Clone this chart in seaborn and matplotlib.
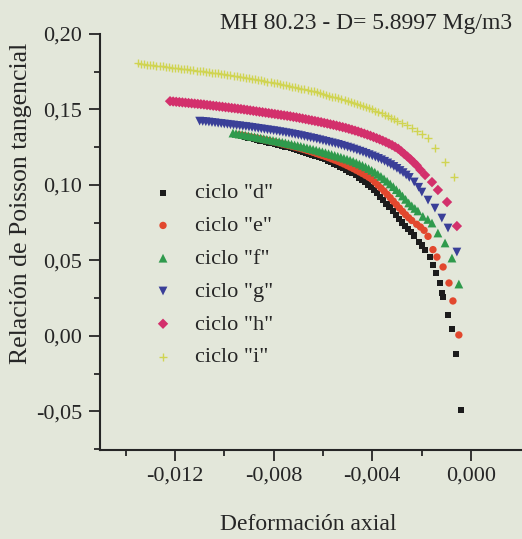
import matplotlib
matplotlib.use("Agg")
import matplotlib.pyplot as plt
from matplotlib.ticker import FixedLocator, FuncFormatter
import seaborn as sns
import pandas as pd

# ---------------- data ----------------
labels = ['ciclo "d"', 'ciclo "e"', 'ciclo "f"', 'ciclo "g"', 'ciclo "h"', 'ciclo "i"']

# ciclo "d"
d_x_band = [-0.0093, -0.009175, -0.00905, -0.008925, -0.0088, -0.008675, -0.00855, -0.008425, -0.0083, -0.008175,
            -0.00805, -0.007925, -0.0078, -0.007675, -0.00755, -0.007425, -0.0073, -0.007175, -0.00705, -0.006925,
            -0.0068, -0.006675, -0.00655, -0.006425, -0.0063, -0.006175, -0.00605, -0.005925, -0.0058, -0.005675,
            -0.00555, -0.005425, -0.0053, -0.005175, -0.00505, -0.004925, -0.0048, -0.004675, -0.00455, -0.004425,
            -0.0043, -0.004175, -0.00405, -0.003925, -0.0038, -0.003675, -0.00355, -0.003425, -0.0033, -0.003175,
            -0.00305, -0.002925, -0.0028, -0.002675, -0.00255, -0.002425, -0.0023]
d_y_band = [.1322, .1318, .1313, .1309, .1304, .1300, .1295, .1291, .1286, .1281,
            .1276, .1271, .1266, .1261, .1255, .1250, .1244, .1238, .1232, .1226,
            .1220, .1214, .1207, .1200, .1193, .1186, .1178, .1170, .1162, .1153,
            .1143, .1133, .1122, .1111, .1100, .1089, .1078, .1064, .1050, .1035,
            .1020, .1003, .0985, .0965, .0945, .0923, .0900, .0876, .0852, .0826,
            .0800, .0776, .0752, .0731, .0710, .0688, .0665]
d_x_tail = [-0.0021, -0.00198, -0.00186, -0.00166, -0.00154, -0.00142, -0.00126, -0.00118, -0.00113,
            -0.00093, -0.00077, -0.00061, -0.00041]
d_y_tail = [.0625, .0600, .0569, .0523, .0470, .0417, .0351, .0285, .0258,
            .0139, .0046, -.0119, -.0490]

# ciclo "e"
e_x_band = [-0.0094, -0.009275, -0.00915, -0.009025, -0.0089, -0.008775, -0.00865, -0.008525, -0.0084, -0.008275,
            -0.00815, -0.008025, -0.0079, -0.007775, -0.00765, -0.007525, -0.0074, -0.007275, -0.00715, -0.007025,
            -0.0069, -0.006775, -0.00665, -0.006525, -0.0064, -0.006275, -0.00615, -0.006025, -0.0059, -0.005775,
            -0.00565, -0.005525, -0.0054, -0.005275, -0.00515, -0.005025, -0.0049, -0.004775, -0.00465, -0.004525,
            -0.0044, -0.004275, -0.00415, -0.004025, -0.0039, -0.003775, -0.00365, -0.003525, -0.0034, -0.003275,
            -0.00315, -0.003025, -0.0029, -0.002775, -0.00265, -0.002525, -0.0024]
e_y_band = [.1332, .1329, .1325, .1321, .1317, .1313, .1309, .1305, .1300, .1296,
            .1291, .1287, .1282, .1277, .1272, .1267, .1262, .1257, .1252, .1247,
            .1241, .1235, .1229, .1223, .1216, .1209, .1202, .1195, .1188, .1181,
            .1173, .1165, .1157, .1148, .1139, .1129, .1119, .1109, .1098, .1087,
            .1076, .1064, .1052, .1039, .1020, .1000, .0980, .0960, .0938, .0916,
            .0893, .0870, .0847, .0825, .0803, .0783, .0765]
e_x_tail = [-0.0022, -0.00205, -0.0019, -0.00174, -0.00154, -0.00138, -0.00113, -0.00089, -0.00073, -0.00049]
e_y_tail = [.0740, .0722, .0700, .0660, .0572, .0523, .0457, .0351, .0232, .0007]

# ciclo "f"
f_x_band = [-0.00965, -0.009525, -0.0094, -0.009275, -0.00915, -0.009025, -0.0089, -0.008775, -0.00865, -0.008525,
            -0.0084, -0.008275, -0.00815, -0.008025, -0.0079, -0.007775, -0.00765, -0.007525, -0.0074, -0.007275,
            -0.00715, -0.007025, -0.0069, -0.006775, -0.00665, -0.006525, -0.0064, -0.006275, -0.00615, -0.006025,
            -0.0059, -0.005775, -0.00565, -0.005525, -0.0054, -0.005275, -0.00515, -0.005025, -0.0049, -0.004775,
            -0.00465, -0.004525, -0.0044, -0.004275, -0.00415, -0.004025, -0.0039, -0.003775, -0.00365, -0.003525,
            -0.0034, -0.003275, -0.00315, -0.003025, -0.0029, -0.002775, -0.00265, -0.002525, -0.0024, -0.002275,
            -0.00215]
f_y_band = [.1344, .1341, .1337, .1334, .1330, .1326, .1322, .1319, .1315, .1311,
            .1307, .1303, .1299, .1295, .1291, .1287, .1283, .1279, .1274, .1270,
            .1265, .1261, .1256, .1251, .1246, .1241, .1236, .1231, .1225, .1220,
            .1214, .1208, .1202, .1196, .1190, .1184, .1177, .1171, .1164, .1157,
            .1148, .1139, .1130, .1120, .1109, .1097, .1085, .1071, .1057, .1041,
            .1025, .1007, .0989, .0969, .0949, .0927, .0905, .0881, .0862, .0845,
            .0828]
f_x_tail = [-0.00195, -0.00175, -0.00158, -0.00134, -0.00105, -0.00077, -0.00049]
f_y_tail = [.0792, .0772, .0748, .0682, .0616, .0516, .0344]

# ciclo "g"
g_x_band = [-0.011, -0.010875, -0.01075, -0.010625, -0.0105, -0.010375, -0.01025, -0.010125, -0.01, -0.009875,
            -0.00975, -0.009625, -0.0095, -0.009375, -0.00925, -0.009125, -0.009, -0.008875, -0.00875, -0.008625,
            -0.0085, -0.008375, -0.00825, -0.008125, -0.008, -0.007875, -0.00775, -0.007625, -0.0075, -0.007375,
            -0.00725, -0.007125, -0.007, -0.006875, -0.00675, -0.006625, -0.0065, -0.006375, -0.00625, -0.006125,
            -0.006, -0.005875, -0.00575, -0.005625, -0.0055, -0.005375, -0.00525, -0.005125, -0.005, -0.004875,
            -0.00475, -0.004625, -0.0045, -0.004375, -0.00425, -0.004125, -0.004, -0.003875, -0.00375, -0.003625,
            -0.0035, -0.003375, -0.00325, -0.003125, -0.003, -0.002875, -0.00275, -0.002625, -0.0025]
g_y_band = [.1423, .1421, .1419, .1417, .1414, .1412, .1409, .1407, .1404, .1402,
            .1399, .1397, .1394, .1392, .1389, .1387, .1384, .1381, .1378, .1375,
            .1372, .1369, .1366, .1363, .1360, .1357, .1353, .1350, .1346, .1343,
            .1339, .1335, .1331, .1327, .1322, .1318, .1313, .1309, .1304, .1299,
            .1294, .1289, .1284, .1279, .1274, .1269, .1263, .1257, .1251, .1245,
            .1238, .1231, .1224, .1217, .1209, .1201, .1193, .1185, .1176, .1167,
            .1157, .1146, .1135, .1123, .1110, .1096, .1082, .1066, .1050]
g_x_tail = [-0.0023, -0.00212, -0.00199, -0.00174, -0.00146, -0.00118, -0.00093, -0.00057]
g_y_tail = [.1020, .0985, .0953, .0900, .0847, .0781, .0715, .0556]

# ciclo "h"
h_x_band = [-0.0122, -0.012075, -0.01195, -0.011825, -0.0117, -0.011575, -0.01145, -0.011325, -0.0112, -0.011075,
            -0.01095, -0.010825, -0.0107, -0.010575, -0.01045, -0.010325, -0.0102, -0.010075, -0.00995, -0.009825,
            -0.0097, -0.009575, -0.00945, -0.009325, -0.0092, -0.009075, -0.00895, -0.008825, -0.0087, -0.008575,
            -0.00845, -0.008325, -0.0082, -0.008075, -0.00795, -0.007825, -0.0077, -0.007575, -0.00745, -0.007325,
            -0.0072, -0.007075, -0.00695, -0.006825, -0.0067, -0.006575, -0.00645, -0.006325, -0.0062, -0.006075,
            -0.00595, -0.005825, -0.0057, -0.005575, -0.00545, -0.005325, -0.0052, -0.005075, -0.00495, -0.004825,
            -0.0047, -0.004575, -0.00445, -0.004325, -0.0042, -0.004075, -0.00395, -0.003825, -0.0037, -0.003575,
            -0.00345, -0.003325, -0.0032, -0.003075, -0.00295, -0.002825, -0.0027, -0.002575, -0.00245, -0.002325,
            -0.0022]
h_y_band = [.1555, .1553, .1551, .1549, .1547, .1545, .1543, .1541, .1539, .1537,
            .1535, .1533, .1530, .1528, .1525, .1523, .1520, .1518, .1515, .1513,
            .1510, .1508, .1505, .1503, .1500, .1497, .1494, .1491, .1488, .1485,
            .1482, .1479, .1476, .1473, .1470, .1467, .1464, .1461, .1458, .1455,
            .1451, .1448, .1444, .1440, .1436, .1432, .1428, .1424, .1420, .1416,
            .1411, .1407, .1402, .1398, .1393, .1388, .1383, .1378, .1372, .1366,
            .1360, .1354, .1347, .1340, .1333, .1326, .1318, .1310, .1302, .1293,
            .1284, .1274, .1264, .1252, .1240, .1223, .1205, .1188, .1170, .1150,
            .1130]
h_x_tail = [-0.00205, -0.00186, -0.00158, -0.00134, -0.00097, -0.00057]
h_y_tail = [.1100, .1066, .1019, .0967, .0887, .0728]

# ciclo "i"
i_x_band = [-0.0135, -0.013375, -0.01325, -0.013125, -0.013, -0.012875, -0.01275, -0.012625, -0.0125, -0.012375,
            -0.01225, -0.012125, -0.012, -0.011875, -0.01175, -0.011625, -0.0115, -0.011375, -0.01125, -0.011125,
            -0.011, -0.010875, -0.01075, -0.010625, -0.0105, -0.010375, -0.01025, -0.010125, -0.01, -0.009875,
            -0.00975, -0.009625, -0.0095, -0.009375, -0.00925, -0.009125, -0.009, -0.008875, -0.00875, -0.008625,
            -0.0085, -0.008375, -0.00825, -0.008125, -0.008, -0.007875, -0.00775, -0.007625, -0.0075, -0.007375,
            -0.00725, -0.007125, -0.007, -0.006875, -0.00675, -0.006625, -0.0065, -0.006375, -0.00625, -0.006125,
            -0.006, -0.005875, -0.00575, -0.005625, -0.0055, -0.005375, -0.00525, -0.005125, -0.005, -0.004875,
            -0.00475, -0.004625, -0.0045, -0.004375, -0.00425, -0.004125, -0.004, -0.003875, -0.00375, -0.003625,
            -0.0035, -0.003375, -0.00325, -0.003125, -0.003]
i_y_band = [.1805, .1803, .1800, .1798, .1795, .1793, .1790, .1788, .1785, .1783,
            .1780, .1778, .1775, .1773, .1770, .1768, .1765, .1763, .1760, .1758,
            .1755, .1753, .1750, .1748, .1745, .1742, .1739, .1736, .1733, .1730,
            .1727, .1724, .1720, .1717, .1713, .1710, .1707, .1704, .1700, .1697,
            .1693, .1689, .1685, .1681, .1677, .1673, .1669, .1665, .1660, .1656,
            .1652, .1648, .1643, .1639, .1634, .1630, .1625, .1620, .1614, .1609,
            .1603, .1598, .1592, .1586, .1580, .1574, .1568, .1562, .1556, .1550,
            .1543, .1537, .1530, .1523, .1515, .1508, .1500, .1492, .1483, .1474,
            .1465, .1455, .1445, .1435, .1425]
i_x_tail = [-0.0028, -0.0026, -0.0024, -0.0022, -0.0020, -0.00174, -0.00146, -0.00105, -0.00067]
i_y_tail = [.1410, .1395, .1377, .1355, .1336, .1311, .1245, .1152, .1050]

x_ticks = [-0.012, -0.008, -0.004, 0.000]
x_minor = [-0.014, -0.010, -0.006, -0.002]
y_ticks = [-0.05, 0.00, 0.05, 0.10, 0.15, 0.20]
y_minor = [-0.075, -0.025, 0.025, 0.075, 0.125, 0.175]
title_text = "MH 80.23 - D= 5.8997 Mg/m3"
x_label = "Deformación axial"
y_label = "Relación de Poisson tangencial"

series_x = [d_x_band + d_x_tail, e_x_band + e_x_tail, f_x_band + f_x_tail,
            g_x_band + g_x_tail, h_x_band + h_x_tail, i_x_band + i_x_tail]
series_y = [d_y_band + d_y_tail, e_y_band + e_y_tail, f_y_band + f_y_tail,
            g_y_band + g_y_tail, h_y_band + h_y_tail, i_y_band + i_y_tail]
df = pd.concat([pd.DataFrame({"x": sx, "y": sy, "ciclo": lab})
                for sx, sy, lab in zip(series_x, series_y, labels)], ignore_index=True)

# ---------------- style ----------------
bg = "#e3e7da"
ink = "#262626"
sns.set_style("ticks")
plt.rcParams["font.family"] = ["Liberation Serif", "DejaVu Serif"]
plt.rcParams["text.color"] = ink
plt.rcParams["axes.labelcolor"] = ink
plt.rcParams["xtick.color"] = ink
plt.rcParams["ytick.color"] = ink

colors = ["#1c1c1c", "#e2482e", "#2f9a4c", "#3a3f98", "#d3306c", "#d0d452"]
markers = ["s", "o", "^", "v", "D", "+"]
sizes = [20, 28, 40, 40, 28, 32]

fig = plt.figure(figsize=(5.22, 5.39), dpi=100, facecolor=bg)
ax = fig.add_axes([100 / 522, 89 / 539, 422 / 522, 416 / 539])
ax.set_facecolor(bg)

for lab, c, m, s in zip(labels, colors, markers, sizes):
    sub = df[df["ciclo"] == lab]
    if m == "+":
        sns.scatterplot(data=sub, x="x", y="y", marker=m, color=c, s=s,
                        linewidth=1.0, ax=ax, label=lab)
    else:
        sns.scatterplot(data=sub, x="x", y="y", marker=m, color=c, s=s,
                        linewidth=0, edgecolor="none", ax=ax, label=lab)

ax.set_xlim(-0.01504, 0.00207)
ax.set_ylim(-0.0755, 0.20)

ax.xaxis.set_major_locator(FixedLocator(x_ticks))
ax.xaxis.set_minor_locator(FixedLocator(x_minor))
ax.yaxis.set_major_locator(FixedLocator(y_ticks))
ax.yaxis.set_minor_locator(FixedLocator(y_minor))
ax.xaxis.set_major_formatter(FuncFormatter(lambda v, p: f"{v:.3f}".replace(".", ",").replace("-0,000", "0,000")))
ax.yaxis.set_major_formatter(FuncFormatter(lambda v, p: f"{v:.2f}".replace(".", ",").replace("-0,00", "0,00")))

ax.tick_params(axis="both", which="major", length=8, width=1.3, labelsize=16, direction="out", pad=4)
ax.tick_params(axis="both", which="minor", length=4, width=1.3, direction="out")
ax.tick_params(axis="y", which="major", pad=5)

sns.despine(ax=ax)
for sp in ["left", "bottom"]:
    ax.spines[sp].set_linewidth(1.5)
    ax.spines[sp].set_color(ink)

ax.set_xlabel(x_label, fontsize=17)
ax.set_ylabel(y_label, fontsize=18.5)
ax.xaxis.set_label_coords(0.493, -0.155)
ax.yaxis.set_label_coords(-0.16, 0.594)

fig.text(512 / 522, 1 - 29 / 539, title_text, ha="right", va="baseline", fontsize=17, color=ink)

leg = ax.legend(loc="upper left", bbox_to_anchor=(0.123, 0.642), frameon=False,
                borderaxespad=0, borderpad=0, handlelength=1.0, handletextpad=0.95,
                labelspacing=0.55, fontsize=16, scatterpoints=1)

fig.savefig("out.png", dpi=100, facecolor=bg)
